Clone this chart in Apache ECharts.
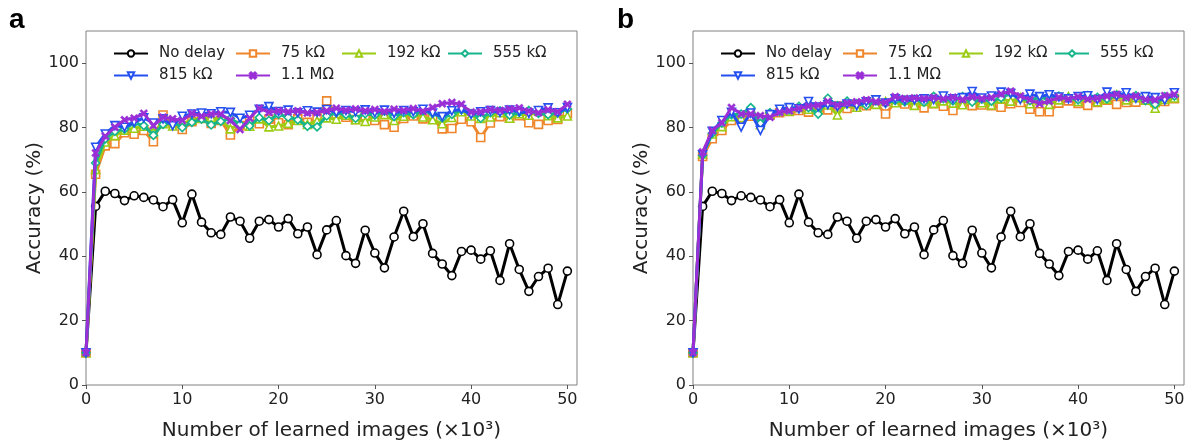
<!DOCTYPE html>
<html>
<head>
<meta charset="utf-8">
<script src="https://cdn.jsdelivr.net/npm/echarts@6/dist/echarts.min.js"></script>
<style>
html,body{margin:0;padding:0;background:#fff;}
#chart{width:1190px;height:446px;}
</style>
</head>
<body>
<div id="chart"></div>
<script>
// ---------- data ----------
const xValues = [0,1,2,3,4,5,6,7,8,9,10,11,12,13,14,15,16,17,18,19,20,21,22,23,24,25,26,27,28,29,30,31,32,33,34,35,36,37,38,39,40,41,42,43,44,45,46,47,48,49,50];
const xTicks = [0,10,20,30,40,50];
const yTicks = [0,20,40,60,80,100];
const seriesNames = ['No delay','75 kΩ','192 kΩ','555 kΩ','815 kΩ','1.1 MΩ'];

// "No delay" (same in both panels)
const noDelay = [10,55.5,60.2,59.5,57.3,58.8,58.3,57.5,55.4,57.6,50.4,59.3,50.6,47.3,46.8,52.2,50.9,45.6,50.9,51.4,49.1,51.7,47.0,49.1,40.5,48.2,51.1,40.2,37.8,48.1,41.0,36.4,46.0,54.0,46.1,50.1,40.9,37.6,34.0,41.5,41.9,39.1,41.7,32.5,43.9,35.9,29.1,33.7,36.3,25.0,35.4];

// panel a
const a75k  = [10,65.5,74.3,75.0,78.4,77.9,79.1,75.6,83.9,81.4,79.4,81.8,82.8,81.3,82.2,77.7,80.6,82.4,81.2,82.6,81.5,80.9,82.7,81.6,82.8,88.3,84.1,83.2,82.5,83.6,82.2,80.9,80.1,82.8,83.6,82.7,82.9,79.6,79.7,82.6,81.8,76.9,81.4,83.4,82.9,83.7,81.5,81.0,82.2,82.5,84.4];
const a192k = [10,67.0,75.5,77.5,79.2,79.8,80.4,78.6,81.2,80.5,81.3,82.3,82.9,83.2,82.4,79.6,81.2,80.4,82.7,80.2,80.5,81.3,82.2,81.0,82.1,83.0,82.6,83.8,82.4,81.9,83.3,84.0,82.2,83.5,84.6,83.3,82.4,81.2,83.1,84.9,83.6,82.8,83.3,84.6,82.9,84.3,83.8,85.1,83.7,83.0,83.6];
const a555k = [10,69.0,76.5,78.8,79.5,81.4,80.6,77.6,81.0,81.7,80.0,81.6,82.6,80.8,81.9,82.8,81.0,80.5,83.1,82.2,84.1,83.2,82.4,80.4,80.2,83.6,84.6,84.0,82.9,84.3,83.9,85.1,83.4,84.6,84.0,85.2,84.4,83.0,84.1,85.5,84.3,82.9,84.6,85.2,83.9,84.7,85.3,84.4,84.0,84.6,85.8];
const a815k = [10,73.9,78.0,80.6,80.1,81.6,83.0,81.4,82.7,80.6,83.5,84.2,84.5,84.3,84.9,84.7,82.9,83.8,85.7,86.5,85.0,85.4,84.6,85.2,84.8,85.6,84.7,85.3,84.9,85.5,84.6,85.4,84.4,85.3,84.9,85.7,84.5,83.4,85.2,85.6,84.1,84.9,85.3,84.7,85.4,85.0,84.4,85.3,86.1,84.6,86.2];
const a1M   = [10,72.1,77.3,80.1,82.4,82.9,84.4,80.6,83.2,82.7,82.2,84.4,83.5,84.2,84.2,82.2,79.4,82.9,86.0,84.7,85.2,84.9,85.2,84.5,84.7,85.2,86.0,85.4,85.8,85.2,85.6,85.0,85.7,85.3,85.9,85.1,86.2,87.4,87.8,87.2,84.8,84.9,85.6,85.3,85.8,86.1,85.1,84.6,85.5,84.9,87.2];

// panel b
const b75k  = [10,71.0,76.5,79.1,82.2,83.0,83.5,82.4,83.8,84.6,85.0,85.3,84.8,86.2,85.5,86.7,85.9,87.2,86.8,87.6,84.2,87.9,87.3,87.0,86.1,87.4,86.6,85.3,87.4,86.8,87.0,86.8,86.3,87.4,87.8,85.7,84.9,84.9,87.6,88.3,87.5,86.9,87.8,88.5,87.2,87.8,87.9,88.5,87.7,88.1,89.0];
const b192k = [10,71.8,78.0,80.3,83.4,83.1,85.0,80.9,84.2,85.3,85.1,86.2,85.7,85.6,87.0,83.9,87.5,86.3,87.8,87.2,88.1,87.7,88.5,86.9,88.1,87.5,88.3,87.6,87.1,88.6,87.7,87.0,88.9,88.2,89.3,87.4,88.4,87.2,88.6,89.6,88.1,89.4,88.0,88.8,90.2,88.6,89.3,88.5,86.0,88.7,89.2];
const b555k = [10,71.4,78.2,81.4,84.0,84.2,86.2,81.3,84.6,85.0,85.6,86.6,86.2,84.2,89.1,86.8,88.2,87.4,86.9,88.3,87.6,88.4,88.0,88.8,87.9,89.7,89.0,88.3,89.6,87.9,88.8,88.2,89.2,90.6,89.1,88.4,89.5,88.7,89.8,89.2,88.6,89.9,89.4,88.9,90.1,89.5,89.9,88.4,87.2,89.6,89.8];
const b815k = [10,71.5,78.8,82.2,84.7,80.1,84.5,79.1,84.0,85.7,86.2,85.8,88.1,86.4,87.1,86.5,87.3,86.8,88.0,88.6,87.6,88.9,88.5,88.6,88.9,88.7,89.8,88.9,89.3,91.2,89.2,89.8,91.0,90.6,88.7,90.4,89.6,90.2,89.5,88.9,89.6,89.9,88.7,91.0,89.8,90.8,89.1,89.6,89.3,88.5,90.8];
const b1M   = [10,72.4,79.1,81.5,86.2,84.2,84.2,83.7,83.2,84.7,85.2,86.0,86.6,86.9,88.1,86.9,87.6,88.0,88.6,88.0,87.8,89.6,89.0,89.2,89.0,89.3,88.9,89.4,88.7,89.5,89.0,89.3,90.4,91.3,89.8,88.6,87.4,88.2,89.4,88.9,89.6,88.8,89.1,89.7,90.3,89.3,89.8,88.7,88.6,89.9,90.3];

const panelA = [noDelay, a75k, a192k, a555k, a815k, a1M];
const panelB = [noDelay, b75k, b192k, b555k, b815k, b1M];

// ---------- styles ----------
const colors = ['#000000','#f0862c','#9ccc14','#17b58c','#2450f0','#9a2fd6'];
const starPath = 'path://M0,2 L2,0 L5,3 L8,0 L10,2 L7,5 L10,8 L8,10 L5,7 L2,10 L0,8 L3,5 Z';
const symbols = ['circle','rect','triangle','diamond','triangle',starPath];
const symbolRot = [0,0,0,0,180,0];
const symbolSizes = [8,8,8,8,8,8];
const FONT = '"DejaVu Sans", sans-serif';

const grids = [
  {left:86, top:31, width:491, height:358, show:true, borderColor:'#808080', borderWidth:1, backgroundColor:'transparent'},
  {left:693, top:31, width:491, height:358, show:true, borderColor:'#808080', borderWidth:1, backgroundColor:'transparent'}
];

function xAxis(i){
  return {type:'value', gridIndex:i, min:0, max:51,
    name:'Number of learned images (×10³)', nameLocation:'middle', nameGap:36,
    nameTextStyle:{fontFamily:FONT, fontSize:20, color:'#222'},
    axisLine:{show:false}, splitLine:{show:false},
    axisTick:{show:true, inside:false, length:4, lineStyle:{color:'#555'}, customValues:xTicks},
    axisLabel:{fontFamily:FONT, fontSize:16, color:'#222', margin:7, customValues:xTicks}};
}
function yAxis(i){
  return {type:'value', gridIndex:i, min:0, max:110,
    name:'Accuracy (%)', nameLocation:'middle', nameGap:38, nameRotate:90,
    nameTextStyle:{fontFamily:FONT, fontSize:20, color:'#222'},
    axisLine:{show:false}, splitLine:{show:false},
    axisTick:{show:true, inside:false, length:4, lineStyle:{color:'#555'}, customValues:yTicks},
    axisLabel:{fontFamily:FONT, fontSize:16, color:'#222', margin:7, customValues:yTicks}};
}

const series = [];
[panelA, panelB].forEach((panel, p) => {
  panel.forEach((ys, k) => {
    const filled = k === 5;
    series.push({
      type:'line', name:seriesNames[k], xAxisIndex:p, yAxisIndex:p,
      data: xValues.map((x, i) => [x, ys[i]]),
      symbol:symbols[k], symbolRotate:symbolRot[k], symbolSize:symbolSizes[k],
      showAllSymbol:true, z: 2 + k,
      lineStyle:{color:colors[k], width:3},
      itemStyle:{color: filled ? colors[k] : '#ffffff', borderColor:colors[k], borderWidth: filled ? 0.5 : 1.6},
      emphasis:{disabled:true}, animation:false
    });
  });
});

// legend positions: [row, col]
const legendPos = [[0,0],[0,1],[0,2],[0,3],[1,0],[1,1]];
const colX = [113, 235, 341, 447];
const rowY = [53, 75];
const legends = [];
[0, 607].forEach(off => {
  seriesNames.forEach((nm, k) => {
    const [r, c] = legendPos[k];
    legends.push({
      data:[nm], left: colX[c] + off, top: rowY[r] - 7, padding:0,
      itemWidth:34, itemHeight:8, selectedMode:false,
      textStyle:{fontFamily:FONT, fontSize:15, color:'#222', padding:[0,0,0,6], lineHeight:14}
    });
  });
});

const chart = echarts.init(document.getElementById('chart'), null, {renderer:'canvas'});
chart.setOption({
  animation:false,
  backgroundColor:'#ffffff',
  grid: grids,
  xAxis: [xAxis(0), xAxis(1)],
  yAxis: [yAxis(0), yAxis(1)],
  legend: legends,
  graphic: [
    {type:'text', left:9, top:6, style:{text:'a', font:'bold 28px "Liberation Sans", Arial, sans-serif', fill:'#000'}},
    {type:'text', left:617, top:6, style:{text:'b', font:'bold 28px "Liberation Sans", Arial, sans-serif', fill:'#000'}}
  ],
  series: series
});
</script>
</body>
</html>
